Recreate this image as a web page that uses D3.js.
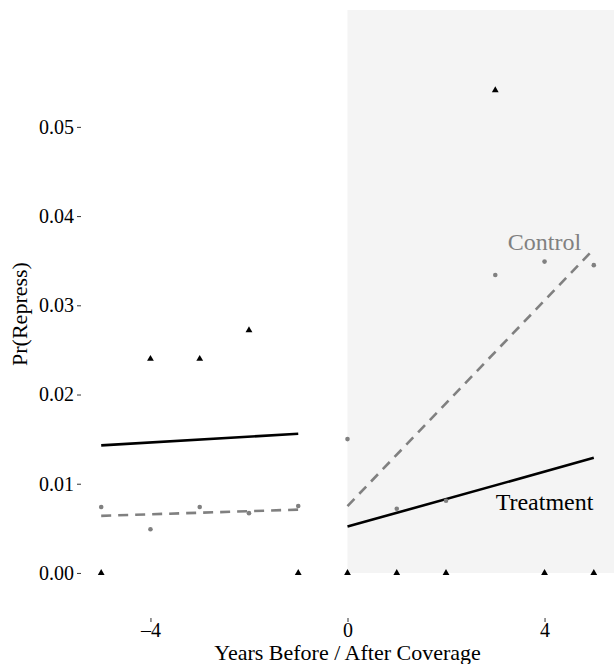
<!DOCTYPE html>
<html>
<head>
<meta charset="utf-8">
<script src="https://cdn.jsdelivr.net/npm/d3@7"></script>
<style>
  body { margin: 0; background: #fff; }
  svg text { font-family: "Liberation Serif", "Times New Roman", Times, serif !important; }
</style>
</head>
<body>
<script>
// Data
var years = [-5, -4, -3, -2, -1, 0, 1, 2, 3, 4, 5];
var treatRate = [0, 0.0240, 0.0240, 0.0272, 0, 0, 0, 0, 0.0541, 0, 0];
var controlRate = [0.0074, 0.0049, 0.0074, 0.0067, 0.0075, 0.0150, 0.0072, 0.0081, 0.0334, 0.0349, 0.0345];

// fitted lines, before and after coverage: [x0, y0, x1, y1]
var treatFitPre = [-5, 0.0143, -1, 0.0156];
var treatFitPost = [0, 0.0052, 5, 0.0129];
var controlFitPre = [-5, 0.0064, -1, 0.0071];
var controlFitPost = [0, 0.0075, 5, 0.0363];

var xTicks = [-4, 0, 4];
var yTicks = [0, 0.01, 0.02, 0.03, 0.04, 0.05];

var serif = "'Liberation Serif', 'Times New Roman', Times, serif";

var svgWidth = 614;
var svgHeight = 664;

var margin = {top: 10, right: 0, bottom: 46, left: 81};
var width = svgWidth - margin.left - margin.right;
var height = svgHeight - margin.top - margin.bottom;

var svg = d3.select("body")
  .append("svg")
  .attr("width", svgWidth)
  .attr("height", svgHeight)
  .attr("font-family", serif);

var chartGroup = svg.append("g")
  .attr("transform", `translate(${margin.left}, ${margin.top})`);

// scales
var xScale = d3.scaleLinear().domain([-5.41, 5.41]).range([0, width]);
var yScale = d3.scaleLinear().domain([-0.00505, 0.0631]).range([height, 0]);

// shaded post-coverage period
chartGroup.append("rect")
  .attr("x", xScale(0))
  .attr("y", yScale(0.0631))
  .attr("width", xScale(5.41) - xScale(0))
  .attr("height", yScale(0) - yScale(0.0631))
  .attr("fill", "#f4f4f4");

// axes
var bottomAxis = d3.axisBottom(xScale).tickValues(xTicks)
  .tickSize(4).tickPadding(1)
  .tickFormat(d => d < 0 ? "\u2013" + Math.abs(d) : d);
var leftAxis = d3.axisLeft(yScale).tickValues(yTicks)
  .tickSize(4).tickPadding(3)
  .tickFormat(d3.format(".2f"));

var xAxis = chartGroup.append("g")
  .attr("transform", `translate(0, ${height})`)
  .call(bottomAxis);
var yAxis = chartGroup.append("g")
  .call(leftAxis);

[xAxis, yAxis].forEach(function(ax) {
  ax.attr("font-family", serif);
  ax.select(".domain").remove();
  ax.selectAll(".tick line").attr("stroke", "#333").attr("stroke-width", 1);
  ax.selectAll(".tick text")
    .attr("fill", "#000")
    .attr("font-family", serif)
    .style("font-size", "20px");
});

// fitted lines
var fits = [
  {seg: treatFitPre, color: "#000", dash: null},
  {seg: treatFitPost, color: "#000", dash: null},
  {seg: controlFitPre, color: "#808080", dash: "10,7"},
  {seg: controlFitPost, color: "#808080", dash: "10,7"}
];

chartGroup.selectAll(".fit")
  .data(fits)
  .enter()
  .append("line")
  .attr("class", "fit")
  .attr("x1", d => xScale(d.seg[0]))
  .attr("y1", d => yScale(d.seg[1]))
  .attr("x2", d => xScale(d.seg[2]))
  .attr("y2", d => yScale(d.seg[3]))
  .attr("stroke", d => d.color)
  .attr("stroke-width", 2.6)
  .attr("stroke-dasharray", d => d.dash);

// control points
chartGroup.selectAll(".ctrl")
  .data(years)
  .enter()
  .append("circle")
  .attr("class", "ctrl")
  .attr("cx", d => xScale(d))
  .attr("cy", (d, i) => yScale(controlRate[i]))
  .attr("r", 2.3)
  .attr("fill", "#808080");

// treatment points
var tri = d3.symbol().type(d3.symbolTriangle).size(20);
chartGroup.selectAll(".treat")
  .data(years)
  .enter()
  .append("path")
  .attr("class", "treat")
  .attr("d", tri)
  .attr("transform", (d, i) => `translate(${xScale(d)}, ${yScale(treatRate[i])})`)
  .attr("fill", "#000");

// labels on the lines
chartGroup.append("text")
  .attr("x", xScale(4))
  .attr("y", yScale(0.0362))
  .attr("text-anchor", "middle")
  .attr("fill", "#808080")
  .style("font-size", "24px")
  .text("Control");

chartGroup.append("text")
  .attr("x", xScale(4))
  .attr("y", yScale(0.0071))
  .attr("text-anchor", "middle")
  .attr("fill", "#000")
  .style("font-size", "24px")
  .text("Treatment");

// axis titles
chartGroup.append("text")
  .attr("transform", "rotate(-90)")
  .attr("x", 0 - height / 2)
  .attr("y", 0 - margin.left + 27)
  .attr("text-anchor", "middle")
  .style("font-size", "22px")
  .text("Pr(Repress)");

chartGroup.append("text")
  .attr("x", width / 2)
  .attr("y", height + 42)
  .attr("text-anchor", "middle")
  .style("font-size", "22px")
  .text("Years Before / After Coverage");
</script>
</body>
</html>
